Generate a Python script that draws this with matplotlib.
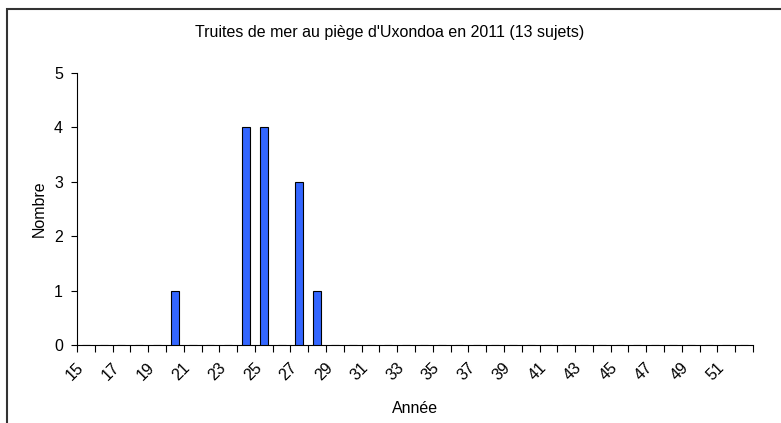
import matplotlib
matplotlib.use("Agg")
import matplotlib.pyplot as plt
from matplotlib.patches import Rectangle
from matplotlib.transforms import ScaledTranslation
import numpy as np

plt.rcParams['font.family'] = ['Liberation Sans', 'DejaVu Sans']

# categories 15 .. 52
ages = list(range(15, 53))
counts = [0, 0, 0, 0, 0, 1, 0, 0, 0, 4, 4, 0, 3, 1,
          0, 0, 0, 0, 0, 0, 0, 0, 0, 0, 0, 0, 0, 0,
          0, 0, 0, 0, 0, 0, 0, 0, 0, 0]
tick_labels = [str(a) for a in ages[::2]]

title = "Truites de mer au piège d'Uxondoa en 2011 (13 sujets)"
x_label = "Année"
y_label = "Nombre"
fs = 11.5

fig = plt.figure(figsize=(7.81, 4.23), dpi=100)
ax = fig.add_axes([77 / 781, 1 - 345 / 423, 676 / 781, 272 / 423])

ax.bar(ages, counts, width=0.45, color="#3366ff", edgecolor="black",
       linewidth=0.8, zorder=3)

ax.set_xlim(ages[0] - 0.5, ages[-1] + 0.5)
ax.set_ylim(0, 5)
ax.set_yticks(range(0, 6))
ax.tick_params(axis='y', length=4, width=0.8, labelsize=fs, pad=6)

# boundary ticks between categories, labels at every other category
ax.set_xticks(np.arange(ages[0] - 0.5, ages[-1] + 1.0, 1.0))
ax.set_xticklabels([])
ax.tick_params(axis='x', which='major', length=5, width=0.8)
ax.set_xticks(ages[::2], minor=True)
ax.set_xticklabels(tick_labels, minor=True, rotation=45,
                   ha='right', va='top', rotation_mode='anchor', fontsize=fs)
ax.tick_params(axis='x', which='minor', length=0, pad=10)
shift = ScaledTranslation(-10 / 100, -1 / 100, fig.dpi_scale_trans)
for t in ax.xaxis.get_minor_ticks():
    t.label1.set_transform(t.label1.get_transform() + shift)

for side in ('top', 'right'):
    ax.spines[side].set_visible(False)
for side in ('left', 'bottom'):
    ax.spines[side].set_linewidth(0.8)

ax.set_xlabel(x_label, fontsize=fs, labelpad=13)
ax.set_ylabel(y_label, fontsize=fs, labelpad=5)
fig.text(390 / 781, 1 - 33 / 423, title,
         ha='center', va='center', fontsize=fs)

# outer chart frame (cropped at right and bottom)
fig.patches.append(Rectangle((6.5 / 781, -0.1), 1.2, 1.1 - 9.5 / 423,
                             transform=fig.transFigure, fill=False,
                             edgecolor='#333333', linewidth=1.5))

fig.savefig("out.png", dpi=100)
